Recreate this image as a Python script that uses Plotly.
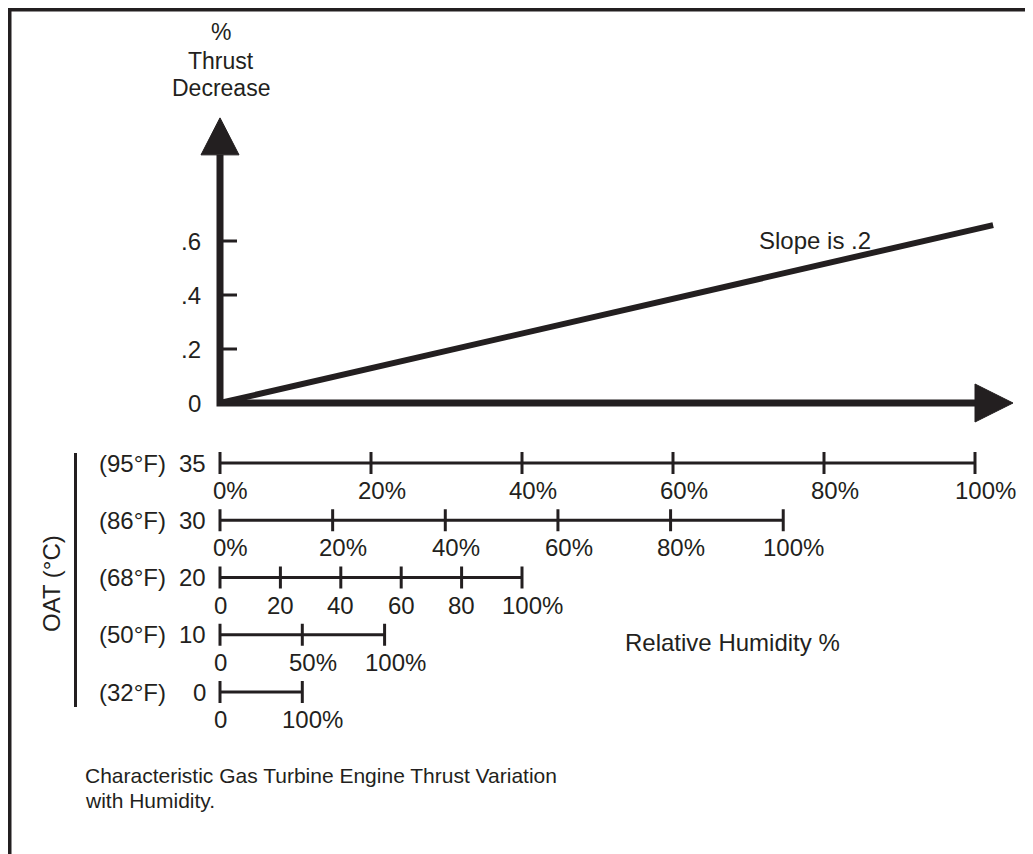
import plotly.graph_objects as go

# ---------------- data ----------------
# main chart: % thrust decrease vs humidity (x in units of % RH at 35 C)
slope_x = [0, 102.4]
slope_y = [0, 0.659]
y_tick_vals = [0, 0.2, 0.4, 0.6]
y_tick_text = ["0", ".2", ".4", ".6"]

# lower scales: OAT rows
oat_c = ["35", "30", "20", "10", "0"]
oat_f = ["(95°F)", "(86°F)", "(68°F)", "(50°F)", "(32°F)"]
scale_full = [100, 74.6, 40.0, 21.8, 10.9]   # length of each 0-100% RH scale on x
row_ticks = [
    [0, 20, 40, 60, 80, 100],
    [0, 20, 40, 60, 80, 100],
    [0, 20, 40, 60, 80, 100],
    [0, 50, 100],
    [0, 100],
]
row_tick_text = [
    ["0%", "20%", "40%", "60%", "80%", "100%"],
    ["0%", "20%", "40%", "60%", "80%", "100%"],
    ["0", "20", "40", "60", "80", "100%"],
    ["0", "50%", "100%"],
    ["0", "100%"],
]

# ---------------- styling / geometry ----------------
W, H = 1033, 854
OFF = 8                  # page body margin
INK = "#231f20"
FONT = "Liberation Sans, Arial, sans-serif"
FS = 24
px_per_x = 7.55          # pixels per x unit
x0_px = 220 - OFF        # figure pixel of x = 0
px_per_y = 270           # pixels per y unit (main)
y0_px = 403 - OFF        # figure pixel of y = 0
row0_px = 463 - OFF      # figure pixel of first scale row
row_px = 57.25           # pixels per row

x_range = [-x0_px / px_per_x, (W - x0_px) / px_per_x]
y_range = [-(H - y0_px) / px_per_y, y0_px / px_per_y]
y2_range = [(H - row0_px) / row_px, -row0_px / row_px]

def dx(p):  # pixels -> x units
    return p / px_per_x

def dy(p):  # pixels -> y units
    return p / px_per_y

def dr(p):  # pixels -> row units
    return p / row_px

def px_paper(p):
    return (p - OFF) / W

def py_paper(p):
    return 1 - (p - OFF) / H

axis_x_end = 100
axis_y_end = 0.919
head_len_x = dx(38)
head_half_y = dy(19)
head_len_y = dy(37)
head_half_x = dx(19)

fig = go.Figure()

# main axes
fig.add_trace(go.Scatter(x=[0, 0, axis_x_end], y=[axis_y_end, 0, 0], mode="lines",
                         line=dict(color=INK, width=7), hoverinfo="skip"))
# arrowheads
fig.add_trace(go.Scatter(x=[-head_half_x, head_half_x, 0, -head_half_x],
                         y=[axis_y_end, axis_y_end, axis_y_end + head_len_y, axis_y_end],
                         mode="lines", fill="toself", fillcolor=INK,
                         line=dict(color=INK, width=1), hoverinfo="skip"))
fig.add_trace(go.Scatter(x=[axis_x_end, axis_x_end, axis_x_end + head_len_x, axis_x_end],
                         y=[head_half_y, -head_half_y, 0, head_half_y],
                         mode="lines", fill="toself", fillcolor=INK,
                         line=dict(color=INK, width=1), hoverinfo="skip"))
# y ticks
tx, ty = [], []
for v in y_tick_vals[1:]:
    tx += [0, dx(17), None]
    ty += [v, v, None]
fig.add_trace(go.Scatter(x=tx, y=ty, mode="lines", line=dict(color=INK, width=3),
                         hoverinfo="skip"))
# slope line
fig.add_trace(go.Scatter(x=slope_x, y=slope_y, mode="lines",
                         line=dict(color=INK, width=6), hoverinfo="skip"))

annotations = []
for v, t in zip(y_tick_vals, y_tick_text):
    annotations.append(dict(x=-dx(17), y=v, xref="x", yref="y", text=t, showarrow=False,
                            xanchor="right", yanchor="middle", font=dict(size=FS)))
annotations.append(dict(x=dx(757 - 220), y=dy(403 - 240), xref="x", yref="y",
                        text="Slope is .2", showarrow=False, xanchor="left",
                        yanchor="middle", font=dict(size=FS)))

# lower scales
for r in range(len(oat_c)):
    full = scale_full[r]
    lx = [0, full, None]
    ly = [r, r, None]
    for f in row_ticks[r]:
        xv = full * f / 100
        lx += [xv, xv, None]
        ly += [r - dr(11), r + dr(11), None]
    fig.add_trace(go.Scatter(x=lx, y=ly, yaxis="y2", mode="lines",
                             line=dict(color=INK, width=3), hoverinfo="skip"))
    for f, t in zip(row_ticks[r], row_tick_text[r]):
        xv = full * f / 100
        shift = 0.889 * FS / 2 if t.endswith("%") else 0
        annotations.append(dict(x=xv, y=r + dr(27.5), xref="x", yref="y2", text=t,
                                showarrow=False, xanchor="center", yanchor="middle",
                                xshift=shift, font=dict(size=FS)))
    annotations.append(dict(x=dx(208 - 220), y=r, xref="x", yref="y2", text=oat_c[r],
                            showarrow=False, xanchor="right", yanchor="middle",
                            font=dict(size=FS)))
    annotations.append(dict(x=dx(97 - 220), y=r, xref="x", yref="y2", text=oat_f[r],
                            showarrow=False, xanchor="left", yanchor="middle",
                            font=dict(size=FS)))

# OAT bracket line
fig.add_trace(go.Scatter(x=[dx(75.5 - 220)] * 2, y=[dr(453 - 463), dr(707 - 463)],
                         yaxis="y2", mode="lines", line=dict(color=INK, width=3),
                         hoverinfo="skip"))
annotations.append(dict(x=dx(51 - 220), y=dr(584 - 463), xref="x", yref="y2",
                        text="OAT (°C)", textangle=-90, showarrow=False,
                        xanchor="center", yanchor="middle", font=dict(size=FS)))
annotations.append(dict(x=dx(623 - 220), y=dr(642 - 463), xref="x", yref="y2",
                        text="Relative Humidity %", showarrow=False,
                        xanchor="left", yanchor="middle", font=dict(size=FS)))

# top title
for t, py in [("%", 32), ("Thrust", 61), ("Decrease", 88)]:
    annotations.append(dict(x=px_paper(221), y=py_paper(py), xref="paper", yref="paper",
                            text=t, showarrow=False, xanchor="center", yanchor="middle",
                            font=dict(size=23)))
# caption
for t, py in [("Characteristic Gas Turbine Engine Thrust Variation", 775),
              ("with Humidity.", 800)]:
    annotations.append(dict(x=px_paper(83), y=py_paper(py), xref="paper", yref="paper",
                            text=t, showarrow=False, xanchor="left", yanchor="middle",
                            font=dict(size=21)))

# frame (top and left edges)
shapes = [
    dict(type="line", xref="paper", yref="paper", x0=0, x1=1,
         y0=py_paper(9.5), y1=py_paper(9.5), line=dict(color=INK, width=4)),
    dict(type="line", xref="paper", yref="paper", x0=px_paper(9.5), x1=px_paper(9.5),
         y0=0, y1=1, line=dict(color=INK, width=4)),
]

fig.update_layout(
    width=W, height=H, margin=dict(l=0, r=0, t=0, b=0),
    paper_bgcolor="white", plot_bgcolor="white", showlegend=False,
    font=dict(family=FONT, color=INK, size=FS),
    xaxis=dict(range=x_range, visible=False, fixedrange=True),
    yaxis=dict(range=y_range, visible=False, fixedrange=True),
    yaxis2=dict(range=y2_range, visible=False, overlaying="y", fixedrange=True),
    annotations=annotations, shapes=shapes,
)

fig.write_html("out.html")
